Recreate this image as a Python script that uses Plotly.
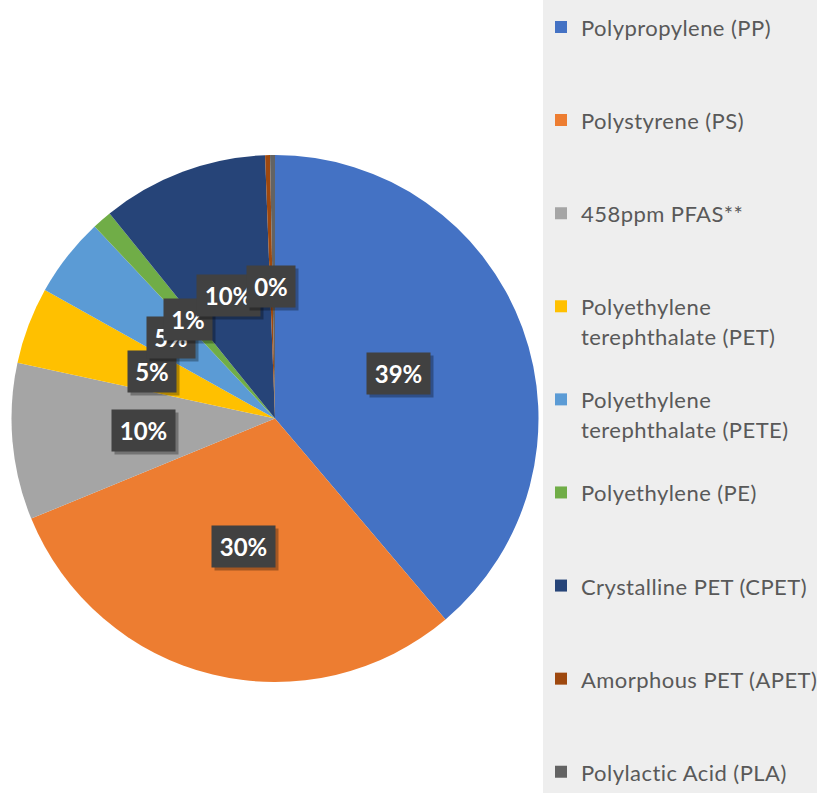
import math
import plotly.graph_objects as go

# ---- data ----
materials = [
    "Polypropylene (PP)",
    "Polystyrene (PS)",
    "458ppm PFAS**",
    "Polyethylene<br>terephthalate (PET)",
    "Polyethylene<br>terephthalate (PETE)",
    "Polyethylene (PE)",
    "Crystalline PET (CPET)",
    "Amorphous PET (APET)",
    "Polylactic Acid (PLA)",
]
shares = [38.8, 30.0, 9.6, 4.7, 4.9, 1.2, 10.2, 0.3, 0.3]
colors = ["#4472C4", "#ED7D31", "#A5A5A5", "#FFC000", "#5B9BD5",
          "#70AD47", "#264478", "#9E480E", "#636363"]
show_label = [True, True, True, True, True, True, True, True, False]

# ---- layout constants ----
W, H = 817, 793
CX, CY, R = 275, 418.5, 263.5     # pie centre / radius in pixels
LEG_FS = 23.1                      # legend line box size
TXT_STYLE = "font-size:22px;letter-spacing:0.45px"


def legend_label(name, last):
    lines = name.split("<br>")
    parts = [f'<span style="{TXT_STYLE}">{l}</span>' for l in lines]
    if not last:
        parts += ["\u00a0"] * (3 - len(lines))
    return "<br>".join(parts)


labels = [legend_label(n, i == len(materials) - 1) for i, n in enumerate(materials)]

fig = go.Figure(go.Pie(
    labels=labels,
    values=shares,
    marker=dict(colors=colors, line=dict(width=0)),
    sort=False,
    direction="clockwise",
    rotation=0,
    textinfo="none",
    hoverinfo="skip",
    domain=dict(x=[(CX - R) / W, (CX + R) / W],
                y=[(H - CY - R) / H, (H - CY + R) / H]),
))

# data labels at half radius, mid-angle of each slice
total = sum(shares)
cum = 0.0
annotations = []
for v, show in zip(shares, show_label):
    theta = math.radians((cum + v / 2) / total * 360)
    cum += v
    if not show:
        continue
    px = CX + 0.5 * R * math.sin(theta)
    py = CY - 0.5 * R * math.cos(theta)
    txt = f"{round(v / total * 100)}%"
    w = 40 if len(txt) == 2 else 55
    common = dict(x=px / W, y=1 - py / H, xref="paper", yref="paper",
                  xanchor="center", yanchor="middle",
                  showarrow=False, width=w, height=33,
                  borderpad=4, align="center", valign="middle")
    # soft drop shadow
    annotations.append(dict(common, text="\u00a0", xshift=3, yshift=-3,
                            bgcolor="rgba(0,0,0,0.30)",
                            font=dict(family="Lato", size=24, color="rgba(0,0,0,0)")))
    annotations.append(dict(common, text=txt, bgcolor="#414141",
                            font=dict(family="Lato", size=24, color="white", weight="bold")))

fig.update_layout(
    width=W, height=H,
    margin=dict(l=0, r=0, t=0, b=0, autoexpand=False),
    paper_bgcolor="#ffffff",
    plot_bgcolor="#ffffff",
    showlegend=True,
    legend=dict(
        x=541 / W, xanchor="left",
        y=1 - 5.5 / H, yanchor="top",
        valign="top",
        font=dict(family="Lato", size=LEG_FS, color="#595959"),
        bgcolor="rgba(0,0,0,0)",
        itemclick=False, itemdoubleclick=False,
    ),
    shapes=[dict(type="rect", xref="paper", yref="paper",
                 x0=543 / W, x1=1, y0=0, y1=1,
                 fillcolor="#eeeeee", line=dict(width=0), layer="below")],
    annotations=annotations,
)

fig.write_html("out.html", config={"displayModeBar": False},
               post_script="document.body.style.margin='0';")
